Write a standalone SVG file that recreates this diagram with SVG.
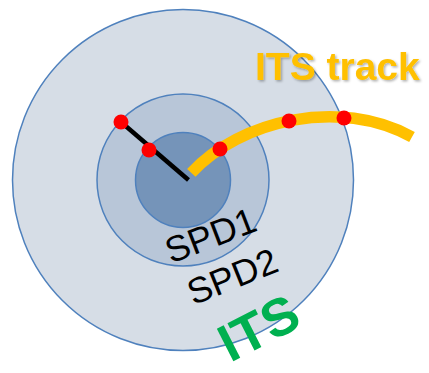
<svg xmlns="http://www.w3.org/2000/svg" width="429" height="373" viewBox="0 0 429 373">
  <style>
    .ring { stroke: #4f81bd; stroke-width: 1.5; }
    .hit { fill: #ff0000; }
    .lbl { font-family: "Liberation Sans", Arial, sans-serif; }
  </style>
  <defs>
    <filter id="sh" x="-10%" y="-20%" width="130%" height="150%">
      <feDropShadow dx="1.5" dy="1.5" stdDeviation="1.2" flood-color="#000" flood-opacity="0.3"/>
    </filter>
  </defs>
  <rect width="429" height="373" fill="#ffffff"/>
  <g id="its-layer">
    <circle class="ring" cx="183" cy="180" r="170.5" fill="#d6dde6"/>
  </g>
  <g id="spd2-layer">
    <circle class="ring" cx="183" cy="180" r="86" fill="#b8c6d8"/>
  </g>
  <g id="spd1-layer">
    <circle class="ring" cx="183" cy="180" r="47.5" fill="#7594b9"/>
  </g>
  <g id="connectors">
    <path id="its-track" d="M191.3,172.8 C240,120 340,97 412,137" fill="none" stroke="#ffc000" stroke-width="11.5"/>
    <line id="tracklet" x1="121" y1="122" x2="188.5" y2="180" stroke="#000" stroke-width="4.5"/>
  </g>
  <g id="hits">
    <circle class="hit" cx="121" cy="122" r="7.5"/>
    <circle class="hit" cx="149" cy="150" r="7.5"/>
    <circle class="hit" cx="220" cy="149" r="7.5"/>
    <circle class="hit" cx="289" cy="121" r="7.5"/>
    <circle class="hit" cx="344" cy="118" r="7.5"/>
  </g>
  <g id="labels">
    <text class="lbl" x="255" y="80" font-size="39" font-weight="bold" fill="#ffc000" filter="url(#sh)">ITS track</text>
    <text class="lbl" x="0" y="0" font-size="36" fill="#000" text-anchor="middle" transform="translate(215,247) rotate(-21)">SPD1</text>
    <text class="lbl" x="0" y="0" font-size="36" fill="#000" text-anchor="middle" transform="translate(237,288) rotate(-22)">SPD2</text>
    <text class="lbl" x="0" y="0" font-size="53" font-weight="bold" fill="#00b050" text-anchor="middle" transform="translate(267,344) rotate(-27)">ITS</text>
  </g>
</svg>
